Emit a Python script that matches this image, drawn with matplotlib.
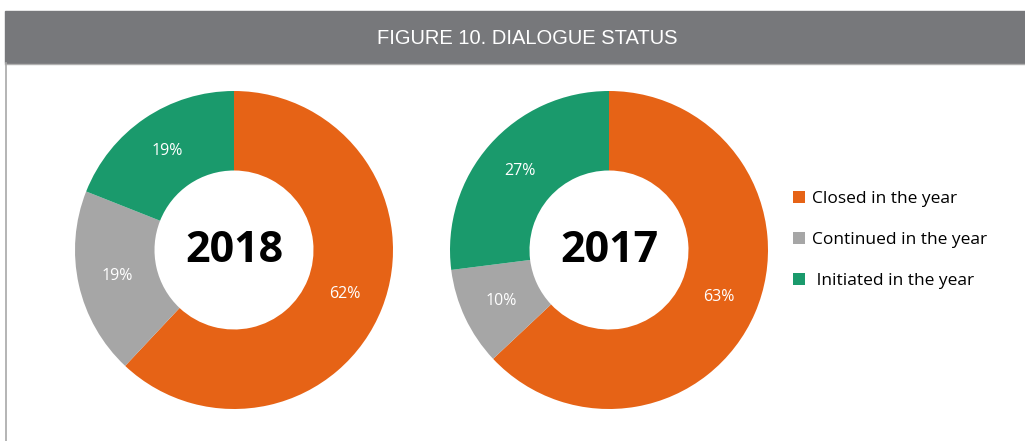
import matplotlib
matplotlib.use('Agg')
import matplotlib.pyplot as plt
from matplotlib.patches import Rectangle, Patch
from matplotlib.lines import Line2D

categories = ["Closed in the year", "Continued in the year", " Initiated in the year"]
years = ["2018", "2017"]
values_2018 = [62, 19, 19]
values_2017 = [63, 10, 27]
colors = ["#E66316", "#A6A6A6", "#1A9A6C"]

W, H = 1025, 441
fig = plt.figure(figsize=(W / 100, H / 100), dpi=100)

# title bar
fig.patches.append(Rectangle((5 / W, 1 - 63 / H), 1 - 5 / W, 52 / H,
                             transform=fig.transFigure, color="#77787B", zorder=0))
fig.lines.append(Line2D([5 / W, 1], [1 - 64 / H, 1 - 64 / H],
                        transform=fig.transFigure, color="#B0B0B0", lw=1))
fig.lines.append(Line2D([5.5 / W, 5.5 / W], [0, 1 - 63 / H],
                        transform=fig.transFigure, color="#A8A8A8", lw=1.2))
fig.text(527 / W, 1 - 39 / H, "FIGURE 10. DIALOGUE STATUS", color="white",
         fontsize=14.5, ha="center", va="center", family="Liberation Sans")

centers = [(234, 250), (609, 250)]
R = 159
for (cx, cy), year, vals in zip(centers, years, [values_2018, values_2017]):
    ax = fig.add_axes([(cx - R) / W, (H - cy - R) / H, 2 * R / W, 2 * R / H])
    wedges, texts, autotexts = ax.pie(
        vals, colors=colors, startangle=90, counterclock=False, radius=1,
        wedgeprops=dict(width=0.5, edgecolor="none"),
        autopct="%d%%", pctdistance=0.75,
        textprops=dict(color="white", fontsize=11.5, family="Open Sans"))
    ax.set_xlim(-1, 1)
    ax.set_ylim(-1, 1)
    ax.text(0, 0, year, ha="center", va="center", fontsize=31,
            fontweight="bold", family="Open Sans", color="black")
    ax.axis("off")

handles = [Patch(facecolor=c, edgecolor="none") for c in colors]
fig.legend(handles, categories, loc="upper left",
           bbox_to_anchor=(777 / W, 1 - 175 / H), frameon=False,
           handlelength=0.7, handleheight=0.7, handletextpad=0.4,
           labelspacing=1.45, prop=dict(family="Open Sans", size=12.5))

plt.savefig("out.png", dpi=100)
